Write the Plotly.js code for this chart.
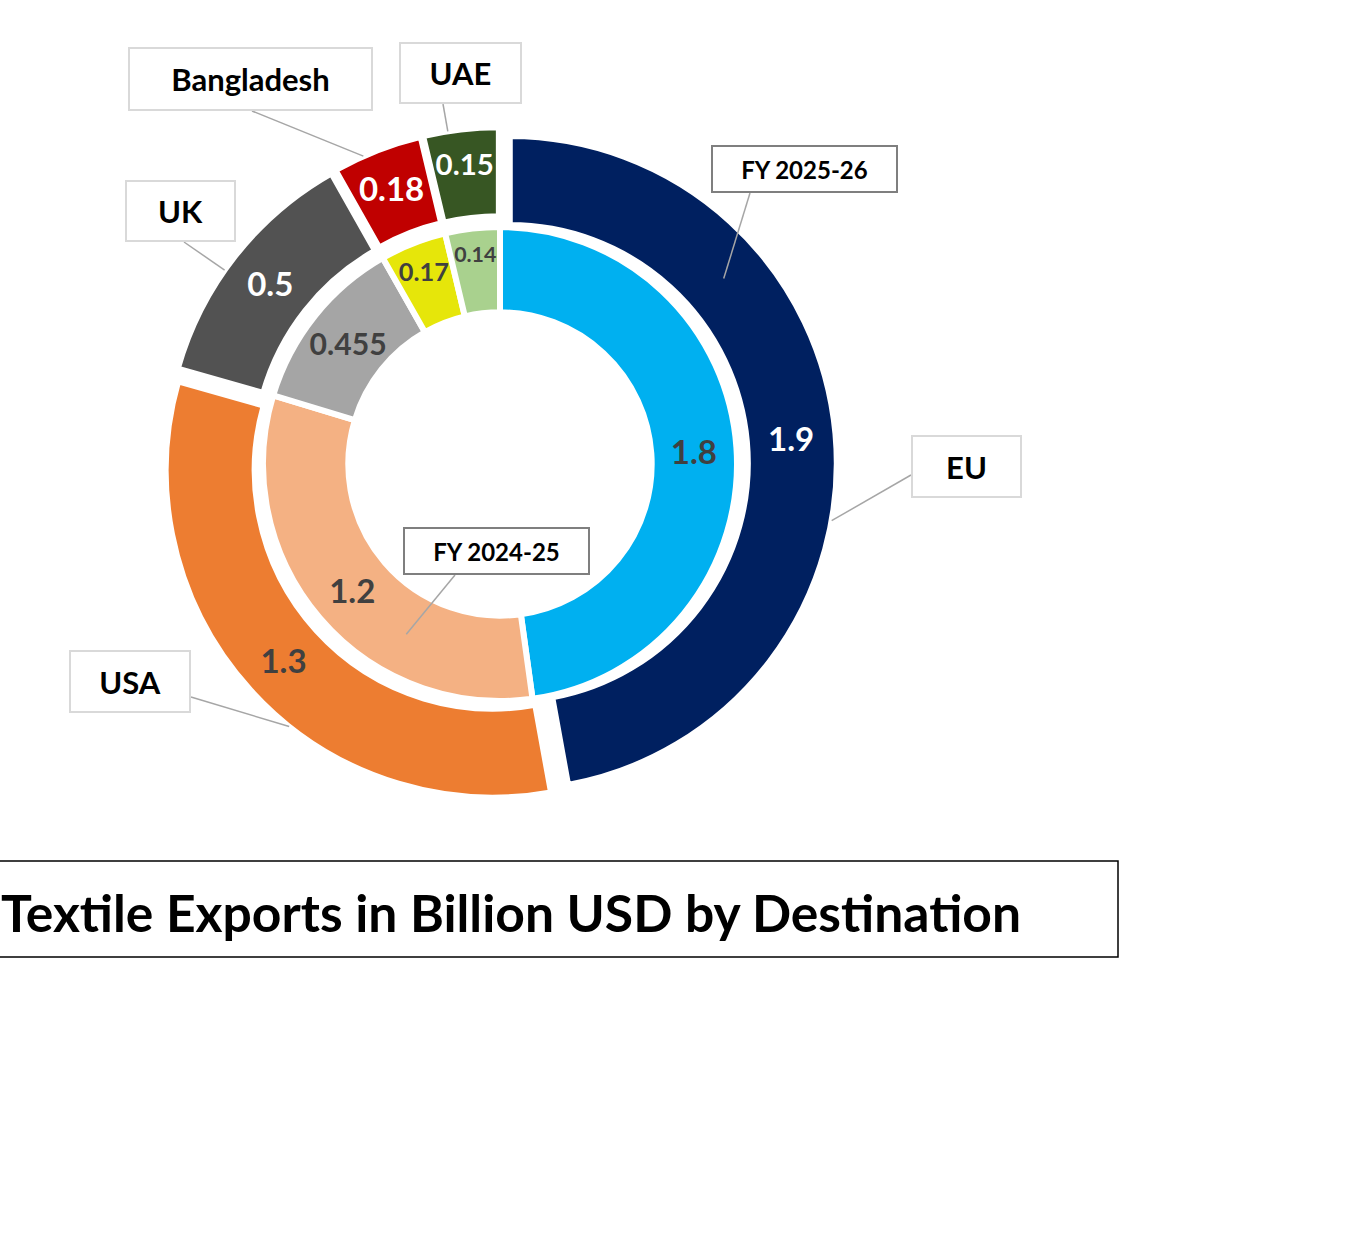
<!DOCTYPE html>
<html>
<head>
<meta charset="utf-8">
<script src="https://cdn.plot.ly/plotly-3.0.1.min.js"></script>
<style>
  html, body { margin: 0; padding: 0; background: #ffffff; }
  #chart { width: 1368px; height: 1260px; }
</style>
</head>
<body>
<div id="chart"></div>
<script>
// data
var destinations = ['EU', 'USA', 'UK', 'Bangladesh', 'UAE'];
var fy2526 = [1.9, 1.3, 0.5, 0.18, 0.15];
var fy2425 = [1.8, 1.2, 0.455, 0.17, 0.14];
var seriesNames = ['FY 2025-26', 'FY 2024-25'];
var chartTitle = 'Textile Exports in Billion USD by Destination';

// styles
var outerColors = ['#002060', '#ED7D31', '#525252', '#C00000', '#375623'];
var innerColors = ['#00B0F0', '#F4B183', '#A5A5A5', '#E6E60A', '#A9D18E'];
var outerTextColors = ['#ffffff', '#404040', '#ffffff', '#ffffff', '#ffffff'];
var innerTextColors = ['#404040', '#404040', '#404040', '#404040', '#404040'];
var FONT = 'Lato, "Liberation Sans", sans-serif';

// geometry (px)
var W = 1368, H = 1260;
var CX = 500, CY = 464;
var R_OUT = 327, HOLE_OUT = 0.728, PULL = 0.03;
var R_IN = 237, HOLE_IN = 0.64;

function domainAround(r) {
  return {
    x: [(CX - r) / W, (CX + r) / W],
    y: [1 - (CY + r) / H, 1 - (CY - r) / H]
  };
}

function sliceAngles(vals) {
  var tot = vals.reduce(function (a, b) { return a + b; }, 0);
  var acc = 0;
  return vals.map(function (v) {
    var a0 = acc / tot * 360;
    acc += v;
    return [a0, acc / tot * 360];
  });
}

// point on a slice: angle fraction f inside the slice, radius r, slice pulled by p px
function slicePoint(vals, i, f, r, p) {
  var a = sliceAngles(vals)[i];
  var th = (a[0] + f * (a[1] - a[0])) * Math.PI / 180;
  var mid = (a[0] + a[1]) / 2 * Math.PI / 180;
  return [CX + p * Math.sin(mid) + r * Math.sin(th),
          CY - p * Math.cos(mid) - r * Math.cos(th)];
}

var outer = {
  type: 'pie',
  values: fy2526,
  labels: destinations,
  name: seriesNames[0],
  text: fy2526.map(String),
  textinfo: 'text',
  textposition: 'inside',
  insidetextorientation: 'horizontal',
  insidetextfont: { family: FONT, size: 33, weight: 'bold', color: outerTextColors },
  sort: false,
  direction: 'clockwise',
  rotation: 0,
  hole: HOLE_OUT,
  pull: PULL,
  marker: { colors: outerColors, line: { color: '#ffffff', width: 6 } },
  domain: domainAround(R_OUT * (1 + PULL)),
  hoverinfo: 'none'
};

var inner = {
  type: 'pie',
  values: fy2425,
  labels: destinations,
  name: seriesNames[1],
  text: fy2425.map(String),
  textinfo: 'text',
  textposition: 'inside',
  insidetextorientation: 'horizontal',
  insidetextfont: { family: FONT, size: 33, weight: 'bold', color: innerTextColors },
  sort: false,
  direction: 'clockwise',
  rotation: 0,
  hole: HOLE_IN,
  marker: { colors: innerColors, line: { color: '#ffffff', width: 6 } },
  domain: domainAround(R_IN),
  hoverinfo: 'none'
};

// callouts: label, tip on slice, box centre / size, leader start on box edge
var callouts = [
  { text: destinations[0], tip: slicePoint(fy2526, 0, 0.59, R_OUT, R_OUT * PULL),
    box: [966, 466, 111, 63], from: [911, 475], border: '#D9D9D9', size: 31 },
  { text: destinations[1], tip: slicePoint(fy2526, 1, 0.42, R_OUT, R_OUT * PULL),
    box: [130, 681, 122, 63], from: [191, 697], border: '#D9D9D9', size: 31 },
  { text: destinations[2], tip: slicePoint(fy2526, 2, 0.43, R_OUT, R_OUT * PULL),
    box: [180, 211, 111, 62], from: [184, 242], border: '#D9D9D9', size: 31 },
  { text: destinations[3], tip: slicePoint(fy2526, 3, 0.34, R_OUT, R_OUT * PULL),
    box: [250, 79, 245, 64], from: [252, 111], border: '#D9D9D9', size: 31 },
  { text: destinations[4], tip: slicePoint(fy2526, 4, 0.33, R_OUT, R_OUT * PULL),
    box: [460, 73, 123, 62], from: [443, 104], border: '#D9D9D9', size: 31 },
  { text: seriesNames[0], tip: slicePoint(fy2526, 0, 0.29, (1 + HOLE_OUT) / 2 * R_OUT, R_OUT * PULL),
    box: [804, 169, 187, 48], from: [750, 193], border: '#7F7F7F', size: 24 },
  { text: seriesNames[1], tip: slicePoint(fy2425, 1, 0.32, (1 + HOLE_IN) / 2 * R_IN, 0),
    box: [496, 551, 187, 48], from: [455, 575], border: '#7F7F7F', size: 24 }
];

var annotations = callouts.map(function (c) {
  return {
    xref: 'paper', yref: 'paper',
    x: c.box[0] / W, y: 1 - c.box[1] / H,
    xanchor: 'center', yanchor: 'middle',
    text: c.text, showarrow: false,
    width: c.box[2] - 4, height: c.box[3] - 4,
    bgcolor: '#ffffff', bordercolor: c.border, borderwidth: 2, borderpad: 0,
    font: { family: FONT, size: c.size, weight: 'bold', color: '#000000' }
  };
});

var shapes = callouts.map(function (c) {
  return {
    type: 'line', xref: 'paper', yref: 'paper',
    x0: c.from[0] / W, y0: 1 - c.from[1] / H,
    x1: c.tip[0] / W, y1: 1 - c.tip[1] / H,
    line: { color: '#A6A6A6', width: 1.5 }
  };
});

// chart title
annotations.push({
  xref: 'paper', yref: 'paper',
  x: -1 / W, y: 1 - 912 / H, xanchor: 'left', yanchor: 'middle',
  text: chartTitle, showarrow: false,
  font: { family: FONT, size: 51.6, weight: 'bold', color: '#000000' }
});
shapes.push({
  type: 'rect', xref: 'paper', yref: 'paper',
  x0: -10 / W, x1: 1118 / W, y0: 1 - 957 / H, y1: 1 - 861 / H,
  line: { color: '#000000', width: 1.5 }, fillcolor: 'rgba(0,0,0,0)'
});

var layout = {
  width: W, height: H,
  margin: { l: 0, r: 0, t: 0, b: 0 },
  paper_bgcolor: '#ffffff',
  plot_bgcolor: '#ffffff',
  showlegend: false,
  annotations: annotations,
  shapes: shapes
};

Plotly.newPlot('chart', [outer, inner], layout, { staticPlot: true, displayModeBar: false });
</script>
</body>
</html>
